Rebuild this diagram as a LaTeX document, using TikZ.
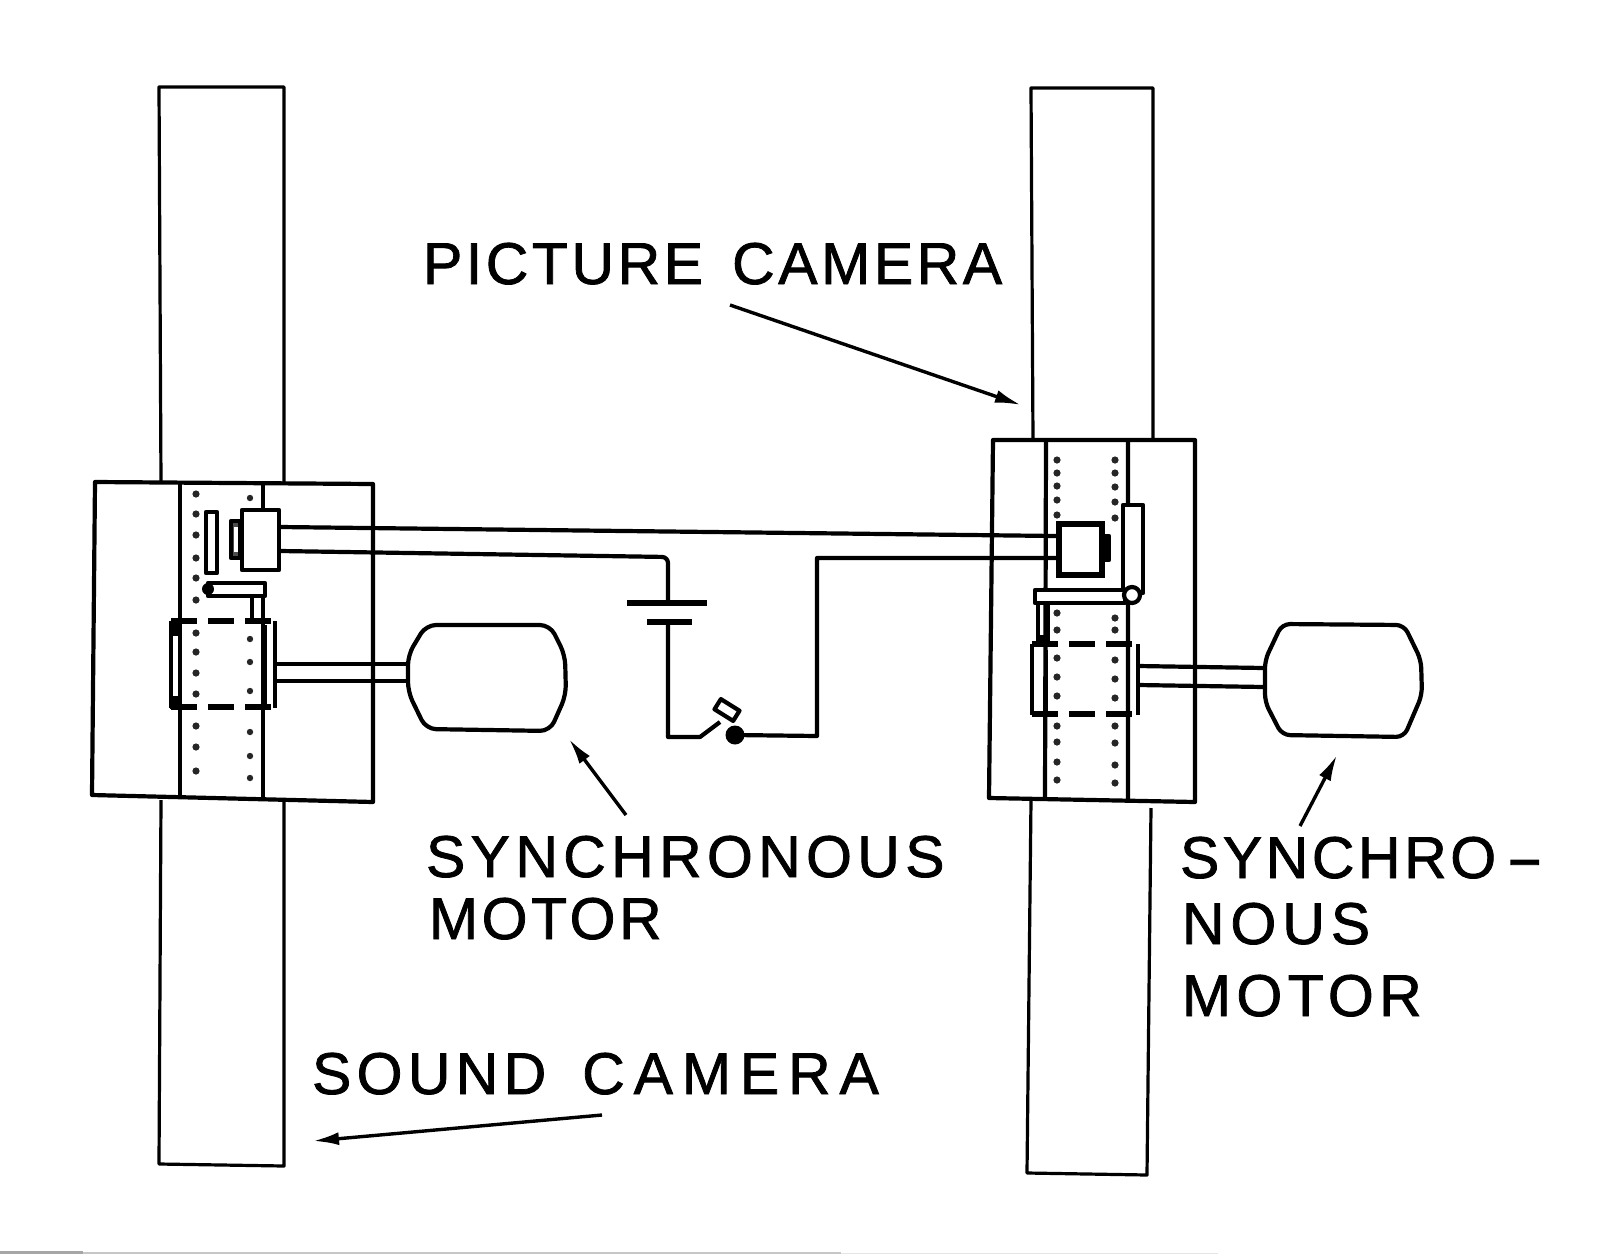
\documentclass[tikz,border=0pt]{standalone}
\usepackage{fontspec}
\setmainfont[LetterSpace=6,FakeBold=1.3]{Liberation Sans}
\usetikzlibrary{arrows.meta}
\newcommand{\lsp}[1]{\addfontfeature{LetterSpace=#1}}
\tikzset{
  ink/.style={draw=black,line width=2.1pt,line join=round},
  thin ink/.style={draw=black,line width=1.6pt,line join=round},
  pointer/.style={draw=black,line width=1.7pt,-{Latex[length=13pt,width=6.5pt]}},
  label text/.style={anchor=base west,inner sep=0pt,outer sep=0pt,font=\fontsize{29.5}{32}\selectfont,text=black},
  dash edge/.style={draw=black,line width=3pt,dash pattern=on 13pt off 5.5pt},
  perf/.style={fill=black!85,draw=none}
}
\begin{document}
\begin{tikzpicture}[x=0.5pt,y=-0.5pt]
\useasboundingbox (0,0) rectangle (1618,1254);
% faint scan edge
\fill[black!35] (0,1251) rectangle (83,1254);
\fill[black!22] (83,1252) rectangle (841,1254);
\fill[black!10] (841,1253) rectangle (1218,1254);
% left strip
\draw[thin ink] (161,483) -- (159,87) -- (284,87) -- (284,483);
\draw[thin ink] (161,800) -- (159,1164) -- (284,1166) -- (284,802);
% right strip
\draw[thin ink] (1033,440) -- (1031,88) -- (1153,88) -- (1153,440);
\draw[thin ink] (1031,800) -- (1027,1173) -- (1147,1175) -- (1151,808);
% left housing
\draw[ink] (95,482) -- (373,484) -- (373,802) -- (92,795) -- cycle;
\draw[ink] (180,483) -- (180,796) (263,484) -- (263,510) (263,596) -- (263,800);
% left perforations
\foreach \y in {494,514,535,558,578,600,633,652,673,694,726,747,771} \fill[perf] (196,\y) circle (3.6);
\foreach \y in {498,639,662,691,732,756,778} \fill[perf] (250,\y) circle (3.2);
% left head
\draw[ink] (206,512) rectangle (217,573);
\draw[ink] (242,510) rectangle (279,570);
\draw[ink,fill=black!70] (231,521) rectangle (240,558);
\fill[white] (234,527) rectangle (238,552);
\draw[ink] (208,583) rectangle (265,596);
\fill (208,589) circle (6);
\draw[ink] (252,597) -- (252,621) (263,597) -- (263,621);
\draw[ink] (171,621) -- (171,708) (275,621) -- (275,708);
\draw[ink] (180,625) -- (180,705) (265,625) -- (265,705);
\fill (171,621) rectangle (180,636);
\fill (170,696) rectangle (180,709);
\draw[dash edge] (171,621) -- (275,621);
\draw[dash edge] (171,707) -- (275,707);
\coordinate (sa) at (275,664);
\coordinate (sb) at (275,681);
\node[inner sep=0pt,minimum size=0pt] (lshaftend) at (407,672) {};
\draw[ink] (sa) -- (lshaftend |- sa);
\draw[ink] (sb) -- (lshaftend |- sb);
\draw[ink,fill=white,rounded corners=5pt] (426,625) -- (550,625) -- (565,655) -- (566,695) -- (550,731) -- (426,729) -- (408,692) -- (408,655) -- cycle;
% right housing
\draw[ink] (993,440) -- (1195,440) -- (1195,802) -- (989,798) -- cycle;
\draw[ink] (1046,441) -- (1045,798) (1128,441) -- (1128,505) (1128,603) -- (1128,800);
\foreach \y in {460,473,486,500,515,613,630,658,677,696,726,742,762,780} \fill[perf] (1057,\y) circle (3.6);
\foreach \y in {460,473,487,502,518,618,630,660,679,698,726,743,765,783} \fill[perf] (1115,\y) circle (3.6);
\draw[ink,fill=white] (1123,505) rectangle (1143,593);
\draw[line width=2.8pt,fill=white] (1059,524) rectangle (1102,575);
\draw[ink,fill=black] (1102,536) rectangle (1109,560);
\draw[ink,fill=white] (1035,590) rectangle (1125,603);
\draw[ink,fill=white] (1132,595) circle (8);
\draw[ink] (1038,604) -- (1038,643) (1048,604) -- (1048,643);
\fill (1038,635) rectangle (1048,644);
\draw[ink] (1032,644) -- (1032,715) (1138,644) -- (1138,715);
\draw[ink] (1046,650) -- (1046,712) (1128,650) -- (1128,712);
\draw[dash edge] (1032,644) -- (1138,644);
\draw[dash edge] (1032,714) -- (1138,714);
\coordinate (ra) at (1138,666);
\coordinate (rb) at (1138,685);
\draw[ink] (ra) -- (1264,668);
\draw[ink] (rb) -- (1264,687);
\draw[ink,fill=white,rounded corners=4pt] (1282,624) -- (1404,625) -- (1421,660) -- (1422,695) -- (1404,737) -- (1282,735) -- (1265,702) -- (1265,660) -- cycle;
% wiring
\coordinate (batTop) at (668,603);
\coordinate (batBot) at (668,622);
\coordinate (swL) at (700,737);
\coordinate (swR) at (735,735);
\draw[ink] (280,527) -- (1056,536);
\draw[ink,rounded corners=3] (280,551) -- (668,557) -- (batTop);
\draw[line width=2.6pt] (627,603) -- (707,603);
\draw[line width=2.6pt] (647,622) -- (692,622);
\draw[ink] (batBot) -- (668,737) -- (swL) -- (720,722);
\draw[ink,rotate around={-32:(727,710)}] (716,704) rectangle (738,716);
\fill (swR) circle (9.5);
\draw[ink] (swR) -- (817,736) -- (817,558) -- (1056,558);
% labels
\node[label text] (lPic) at (423,284) {PICTURE\hspace{4.5pt} CAMERA};
\node[label text] (lSyn) at (426,877) {\lsp{9}SYNCHRONOUS};
\node[label text] (lMot) at (429,939) {MOTOR};
\node[label text] (rSyn) at (1180,878) {SYNCHRO\,\scalebox{1.9}[1]{-}};
\node[label text] (rNou) at (1182,944) {\lsp{10}NOUS};
\node[label text] (rMot) at (1182,1016) {\lsp{9}MOTOR};
\node[label text] (lSou) at (312,1094) {{\lsp{9}SOUND}\hspace{8pt} {\lsp{15}CAMERA}};
% pointers
\coordinate (pA) at (730,305); \coordinate (pB) at (1021,405);
\coordinate (qA) at (626,815); \coordinate (qB) at (569,739);
\coordinate (rA) at (1300,826); \coordinate (rB) at (1337,755);
\coordinate (sA) at (602,1115); \coordinate (sB) at (313,1141);
\draw[pointer] (pA) -- (pB);
\draw[pointer] (qA) -- (qB);
\draw[pointer] (rA) -- (rB);
\draw[pointer] (sA) -- (sB);
\end{tikzpicture}
\end{document}
